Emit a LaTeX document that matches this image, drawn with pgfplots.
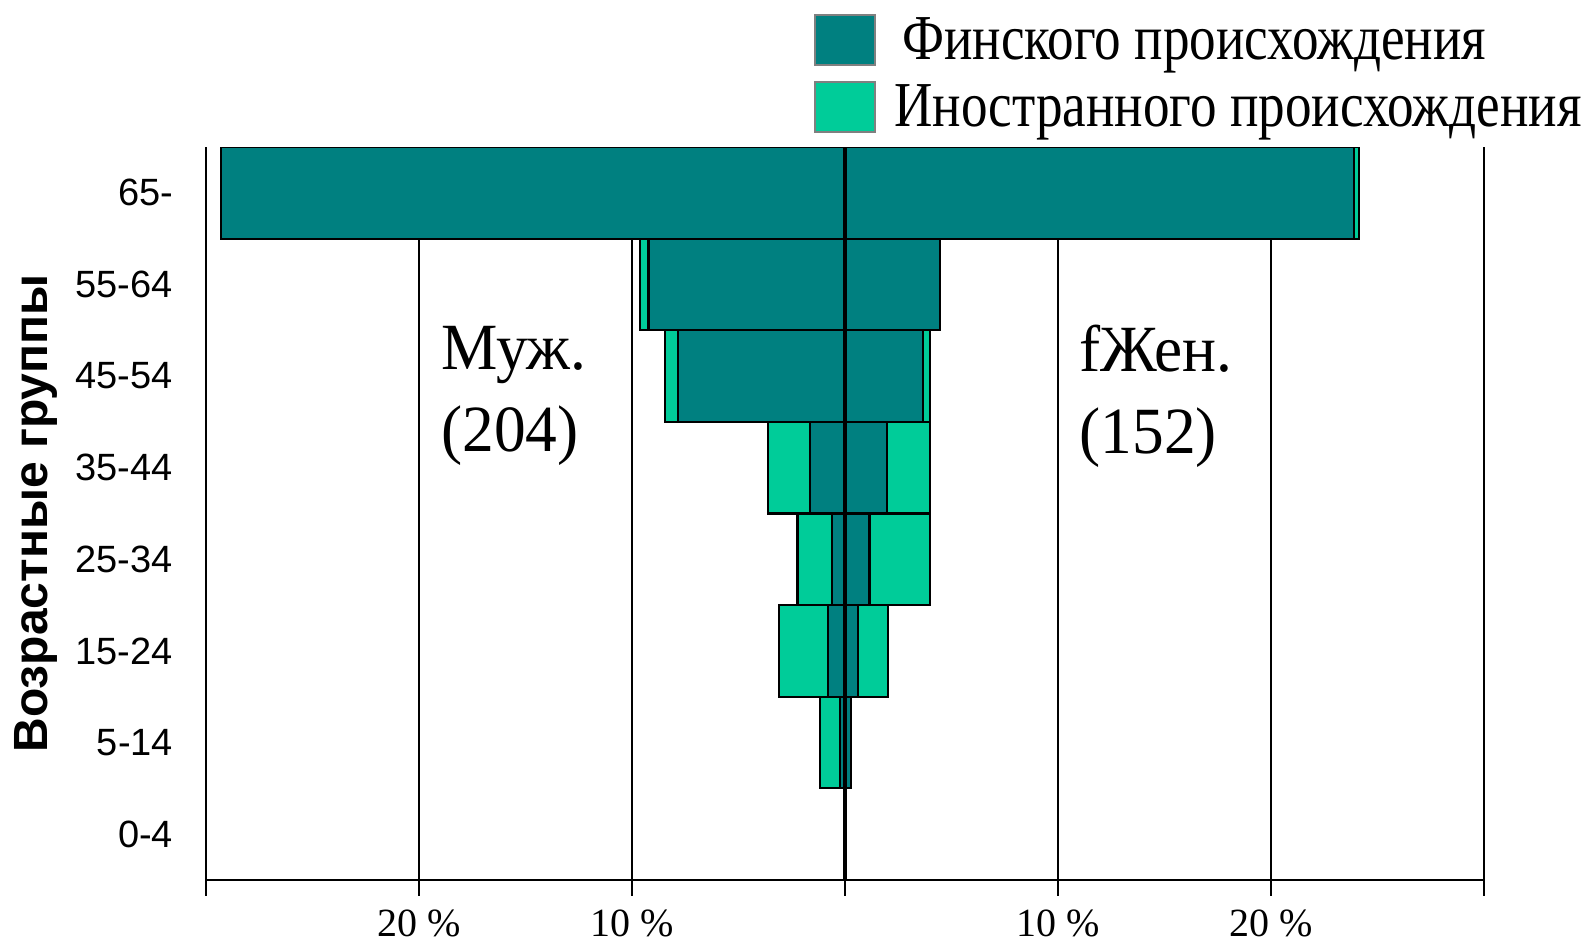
\documentclass[border=0pt]{standalone}
\usepackage{fontspec}
\setmainfont{Liberation Serif}
\newfontfamily\arial{Liberation Sans}
\newfontfamily\legfont[FakeStretch=0.83]{Liberation Serif}
\newfontfamily\txtfont[FakeStretch=0.96]{Liberation Serif}
\usepackage{pgfplots}
\pgfplotsset{compat=1.18}
\definecolor{fin}{HTML}{008080}
\definecolor{frn}{HTML}{00CC99}

\begin{document}
\begin{tikzpicture}
\useasboundingbox (-103pt,-33pt) rectangle (691.5pt,440pt);
\begin{axis}[
 scale only axis, width=639pt, height=366.5pt,
 xmin=-30, xmax=30, ymin=-0.5, ymax=7.5,
 xbar, bar width=1, bar shift=0pt,
 axis x line*=bottom, axis y line*=left,
 axis line style={line width=0.8pt},
 xtick={-30,-20,-10,0,10,20,30},
 xticklabels={{},{20 \%},{10 \%},{},{10 \%},{20 \%},{}},
 xmajorgrids, grid style={black, line width=0.8pt},
 tick align=outside, major tick length=8pt,
 xtick style={black, line width=0.8pt},
 ytick={0,...,7},
 yticklabels={0-4,5-14,15-24,25-34,35-44,45-54,55-64,65-},
 ytick style={draw=none},
 yticklabel style={font=\arial\fontsize{19}{21}\selectfont, xshift=-5pt},
 xticklabel style={font=\fontsize{20}{24}\selectfont, yshift=-3.5pt},
 ylabel={Возрастные группы},
 ylabel style={font=\arial\bfseries\fontsize{24}{27}\selectfont, at={(axis description cs:-0.1330,0.5)}, anchor=center},
 legend style={at={(0.4757,1.1828)}, anchor=north west, draw=none, fill=none, inner sep=0pt, row sep=7pt, font=\legfont\fontsize{32}{36}\selectfont, cells={anchor=west}, nodes={inner xsep=9pt}},
]
\addlegendimage{legend image code/.code={\draw[fill=fin, draw=gray, line width=1pt] (0pt,-12.5pt) rectangle (30pt,12.5pt);}}
\addlegendentry{\hspace{4pt}Финского происхождения}
\addlegendimage{legend image code/.code={\draw[fill=frn, draw=gray, line width=1pt] (0pt,-12.5pt) rectangle (30pt,12.5pt);}}
\addlegendentry{Иностранного происхождения}
% men: total (Finnish + foreign), then Finnish
\addplot[fill=frn, draw=black, line width=1.1pt, bar shift=0pt, forget plot] coordinates {(-1.17,1) (-3.08,2) (-2.23,3) (-3.60,4) (-8.45,5) (-9.62,6) (-29.3,7)};
\addplot[fill=fin, draw=black, line width=1.1pt, bar shift=0pt, forget plot] coordinates {(-0.23,1) (-0.80,2) (-0.61,3) (-1.64,4) (-7.83,5) (-9.23,6) (-29.3,7)};
% women: total, then Finnish
\addplot[fill=frn, draw=black, line width=1.1pt, bar shift=0pt, forget plot] coordinates {(0.27,1) (2.00,2) (4.00,3) (3.99,4) (3.99,5) (4.46,6) (24.15,7)};
\addplot[fill=fin, draw=black, line width=1.1pt, bar shift=0pt, forget plot] coordinates {(0.27,1) (0.62,2) (1.15,3) (1.99,4) (3.65,5) (4.46,6) (23.9,7)};
\draw[line width=2.2pt] (axis cs:0,-0.5) -- (axis cs:0,7.5);
\node[anchor=west, align=left, inner sep=0pt, font=\txtfont\fontsize{33}{41}\selectfont] at (axis cs:-18.97,4.78) {Муж.\\(204)};
\node[anchor=west, align=left, inner sep=0pt, font=\txtfont\fontsize{33}{41}\selectfont] at (axis cs:11.0,4.78) {fЖен.\\(152)};
\end{axis}
\end{tikzpicture}
\end{document}
